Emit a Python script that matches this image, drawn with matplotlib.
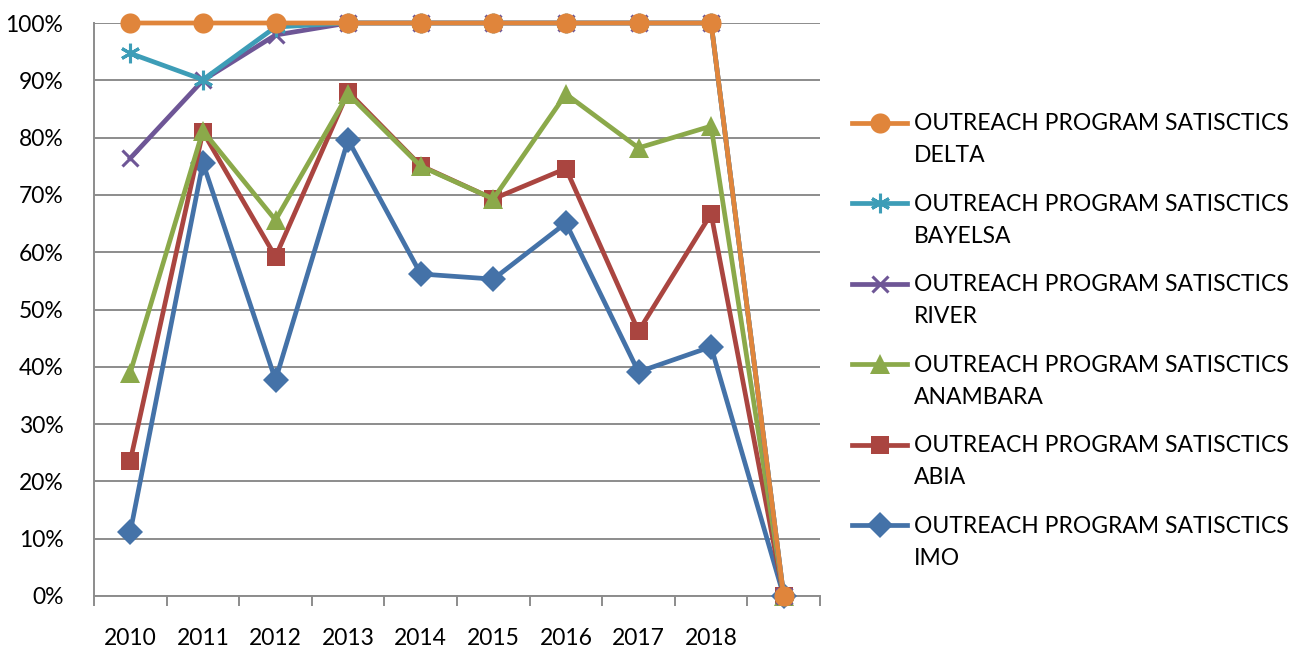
import matplotlib
matplotlib.use("Agg")
import matplotlib.pyplot as plt
from matplotlib.ticker import PercentFormatter, FixedLocator, NullFormatter, FixedFormatter
from matplotlib.legend_handler import HandlerLine2D

plt.rcParams['font.family'] = ['Lato', 'DejaVu Sans']

categories = ["2010", "2011", "2012", "2013", "2014", "2015", "2016", "2017", "2018", ""]

imo      = [0.112, 0.756, 0.377, 0.796, 0.562, 0.553, 0.651, 0.391, 0.435, 0.0]
abia     = [0.236, 0.810, 0.592, 0.880, 0.751, 0.693, 0.746, 0.462, 0.667, 0.0]
anambara = [0.390, 0.812, 0.656, 0.876, 0.750, 0.693, 0.876, 0.782, 0.820, 0.0]
river    = [0.764, 0.900, 0.979, 1.0, 1.0, 1.0, 1.0, 1.0, 1.0, 0.0]
bayelsa  = [0.947, 0.901, 0.993, 1.0, 1.0, 1.0, 1.0, 1.0, 1.0, 0.0]
delta    = [1.0, 1.0, 1.0, 1.0, 1.0, 1.0, 1.0, 1.0, 1.0, 0.0]

prefix = "OUTREACH PROGRAM SATISCTICS\n"
series = [
    ("IMO", imo, "#4472A8", "D", 13),
    ("ABIA", abia, "#AA4540", "s", 13),
    ("ANAMBARA", anambara, "#8BA94A", "^", 14),
    ("RIVER", river, "#6E5696", "x", 12),
    ("BAYELSA", bayelsa, "#3D9DB7", (6, 2, 0), 14),
    ("DELTA", delta, "#E0853B", "o", 14.5),
]


class TopHandler(HandlerLine2D):
    def __init__(self, shift, **kw):
        super().__init__(**kw)
        self.shift = shift

    def create_artists(self, legend, orig_handle, xdescent, ydescent,
                       width, height, fontsize, trans):
        return super().create_artists(legend, orig_handle, xdescent,
                                      ydescent - self.shift, width, height,
                                      fontsize, trans)


fig = plt.figure(figsize=(13, 6.51), dpi=100)
ax = fig.add_axes([94/1300, 55/651, (820-94)/1300, (596-23)/651])

x = list(range(len(categories)))
handles = {}
for i, (name, vals, color, mk, ms) in enumerate(series):
    kw = dict(markeredgewidth=2.2) if mk in ("x", (6, 2, 0)) else dict(markeredgewidth=0)
    ln, = ax.plot(x, vals, color=color, lw=3.4, marker=mk, markersize=ms,
                  markerfacecolor=color, markeredgecolor=color, zorder=3 + i,
                  clip_on=False, label=prefix + name, **kw)
    handles[name] = ln

ax.set_xlim(-0.5, len(categories) - 0.5)
ax.set_ylim(0, 1.0)
ax.yaxis.set_major_locator(FixedLocator([i / 10 for i in range(11)]))
ax.yaxis.set_major_formatter(PercentFormatter(1.0, decimals=0))
ax.grid(axis='y', color='#8C8C8C', lw=1.4)
ax.set_axisbelow(True)

ax.xaxis.set_major_locator(FixedLocator([i - 0.5 for i in range(len(categories) + 1)]))
ax.xaxis.set_major_formatter(NullFormatter())
ax.xaxis.set_minor_locator(FixedLocator(x))
ax.xaxis.set_minor_formatter(FixedFormatter(categories))
ax.tick_params(axis='x', which='major', length=7, width=1.4, color='#8C8C8C', direction='out')
ax.tick_params(axis='x', which='minor', length=0, pad=23, labelsize=16.5)
ax.tick_params(axis='y', which='major', length=0, pad=22, labelsize=16.5)

for s in ['top', 'right']:
    ax.spines[s].set_visible(False)
for s in ['left', 'bottom']:
    ax.spines[s].set_color('#8C8C8C')
    ax.spines[s].set_linewidth(1.4)
ax.spines['left'].set_zorder(1)

order = ["DELTA", "BAYELSA", "RIVER", "ANAMBARA", "ABIA", "IMO"]
hmap = {handles[n]: TopHandler(25) for n in order}
leg = fig.legend([handles[n] for n in order], [prefix + n for n in order],
                 loc='upper left', bbox_to_anchor=(852/1300, 1 - 113/651),
                 frameon=False, fontsize=16.5, handlelength=2.4, handletextpad=0.3,
                 labelspacing=1.2, borderpad=0, borderaxespad=0, handler_map=hmap)
for t in leg.get_texts():
    t.set_linespacing(1.65)

fig.savefig("out.png", dpi=100)
